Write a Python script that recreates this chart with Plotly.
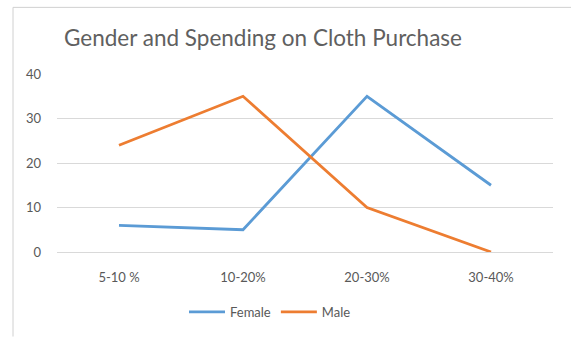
import plotly.graph_objects as go

categories = ["5-10 %", "10-20%", "20-30%", "30-40%"]
female = [6, 5, 35, 15]
male = [24, 35, 10, 0]

W, H = 571, 338
ML, MR, MT, MB = 57, 18, 74, 85
pw, ph = W - ML - MR, H - MT - MB

def px_x(p):
    return (p - ML) / pw

def px_y(p):
    return (H - MB - p) / ph

fig = go.Figure()
fig.add_trace(go.Scatter(x=categories, y=female, mode="lines", name="Female",
                         line=dict(color="#5B9BD5", width=2.8)))
fig.add_trace(go.Scatter(x=categories, y=male, mode="lines", name="Male",
                         line=dict(color="#ED7D31", width=2.8)))

fig.update_layout(
    width=W, height=H,
    margin=dict(l=ML, r=MR, t=MT, b=MB),
    paper_bgcolor="white", plot_bgcolor="white",
    font=dict(family="Lato, sans-serif", color="#595959", size=12),
    title=dict(text="Gender and Spending on Cloth Purchase", x=263 / W, xanchor="center",
               y=1 - 38 / H, yanchor="middle",
               font=dict(size=22.5, color="#606060", family="Lato, sans-serif")),
    showlegend=True,
    legend=dict(orientation="h", x=px_x(270), xanchor="center", y=px_y(312), yanchor="middle",
                font=dict(size=13, color="#595959"), itemwidth=36, tracegroupgap=0),
    xaxis=dict(type="category", range=[-0.5, 3.5], showgrid=False, showline=False,
               ticks="", ticklabelstandoff=16,
               tickfont=dict(size=13, color="#595959"), fixedrange=True),
    yaxis=dict(range=[0, 40], dtick=10, showgrid=True, gridcolor="#D9D9D9", gridwidth=1,
               zeroline=True, zerolinecolor="#D9D9D9", zerolinewidth=1,
               showline=False, ticks="", ticklabelstandoff=15,
               tickfont=dict(size=13, color="#595959"), fixedrange=True),
    shapes=[
        dict(type="line", xref="paper", yref="paper", x0=px_x(13), x1=px_x(13),
             y0=px_y(7), y1=px_y(338), line=dict(color="#D0D0D0", width=1)),
        dict(type="line", xref="paper", yref="paper", x0=px_x(13), x1=px_x(571),
             y0=px_y(7), y1=px_y(7), line=dict(color="#D0D0D0", width=1)),
    ],
)

fig.write_html("out.html")
